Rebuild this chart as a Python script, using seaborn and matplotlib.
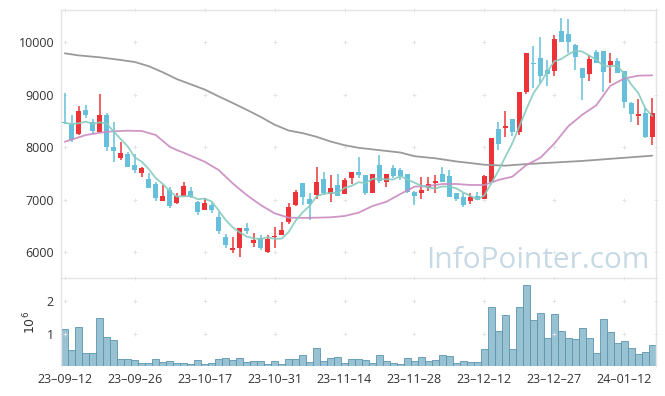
import numpy as np
import pandas as pd
import matplotlib
matplotlib.use("Agg")
import matplotlib.pyplot as plt
import seaborn as sns

# KRX trading days shown in the chart
holidays = ["2023-09-28", "2023-09-29", "2023-10-02", "2023-10-03", "2023-10-09",
            "2023-12-25", "2023-12-29", "2024-01-01"]
dates = pd.bdate_range("2023-09-12", "2024-01-18", freq="C", holidays=holidays)

opens = [8480, 8444, 8253, 8710, 8476, 8297, 8615, 8011, 7802, 7872,
         7663, 7504, 7396, 7301, 6983, 7186, 6933, 7078, 7167, 6963,
         6805, 6901, 6678, 6297, 6043, 6087, 6457, 6171, 6278, 6011,
         6297, 6329, 6582, 6901, 7314, 7015, 7091, 7390, 7104, 7282,
         7104, 7421, 7523, 7472, 7135, 7663, 7345, 7611, 7567, 7491,
         7154, 7135, 7219, 7325, 7491, 7453, 7123, 7059, 6983, 7072,
         7009, 7345, 8343, 8373, 8533, 8297, 9059, 9600, 9695, 9472,
         9459, 10215, 10158, 9949, 9505, 9390, 9821, 9834, 9568, 9644,
         9453, 8849, 8602, 8659, 8202]
highs = [9040, 8615, 8787, 8800, 8533, 9010, 8647, 8476, 8095, 7916,
         7872, 7619, 7516, 7333, 7282, 7249, 7135, 7344, 7249, 6980,
         7028, 6963, 6773, 6342, 6285, 6470, 6563, 6373, 6329, 6329,
         6487, 6582, 6944, 7186, 7325, 7123, 7619, 7535, 7472, 7485,
         7409, 7530, 7809, 7480, 7485, 7853, 7500, 7663, 7600, 7500,
         7160, 7428, 7428, 7472, 7619, 7567, 7130, 7123, 7123, 7154,
         7470, 8171, 8487, 8697, 8540, 9059, 9800, 9930, 10095, 9663,
         10139, 10457, 10438, 9960, 9510, 9758, 9853, 9840, 9790, 9695,
         9460, 8855, 8914, 8743, 8933]
lows = [8440, 8106, 8234, 8552, 8253, 8297, 7935, 7725, 7758, 7619,
        7516, 7440, 7219, 6983, 6983, 6838, 6920, 7072, 7028, 6710,
        6805, 6754, 6348, 6076, 5980, 5916, 6348, 6106, 6043, 5992,
        6076, 6329, 6539, 6881, 6900, 6615, 7009, 7091, 6963, 7078,
        7104, 7301, 7409, 7091, 7135, 7314, 7238, 7409, 7377, 7123,
        6901, 7009, 7173, 7123, 7345, 7059, 6983, 6868, 6920, 6996,
        7009, 7330, 7948, 8202, 8215, 8234, 9015, 9124, 9230, 9168,
        9358, 10006, 9802, 9472, 8901, 9268, 9611, 9059, 9219, 9409,
        8743, 8487, 8425, 8171, 8044]
closes = [8463, 8139, 8691, 8621, 8310, 8615, 8011, 7935, 7897, 7630,
          7567, 7600, 7230, 7040, 7072, 6887, 7072, 7263, 7059, 6773,
          6944, 6805, 6411, 6138, 6087, 6457, 6411, 6234, 6076, 6253,
          6310, 6424, 6868, 7142, 7059, 6920, 7333, 7123, 7219, 7078,
          7377, 7523, 7472, 7135, 7485, 7364, 7491, 7459, 7459, 7154,
          7072, 7186, 7301, 7364, 7345, 7059, 7015, 6901, 7059, 6996,
          7453, 8171, 8063, 8406, 8297, 9059, 9790, 9581, 9364, 9396,
          10063, 10006, 10011, 9726, 9314, 9682, 9611, 9440, 9644, 9409,
          8868, 8628, 8634, 8202, 8647]
# volume in millions of shares
volumes = [1.13, 0.48, 1.21, 0.39, 0.39, 1.49, 0.90, 0.81, 0.21, 0.21,
           0.18, 0.10, 0.10, 0.21, 0.11, 0.14, 0.08, 0.08, 0.05, 0.18,
           0.05, 0.08, 0.21, 0.24, 0.18, 0.24, 0.11, 0.14, 0.14, 0.05,
           0.14, 0.05, 0.21, 0.21, 0.33, 0.11, 0.54, 0.14, 0.24, 0.27,
           0.10, 0.21, 0.21, 0.18, 0.08, 0.35, 0.14, 0.10, 0.07, 0.24,
           0.14, 0.27, 0.14, 0.18, 0.33, 0.30, 0.08, 0.14, 0.11, 0.11,
           0.51, 1.83, 1.07, 1.56, 0.51, 1.83, 2.48, 1.41, 1.62, 0.87,
           1.59, 1.07, 0.85, 0.82, 1.16, 0.87, 0.39, 1.44, 1.04, 0.70,
           0.76, 0.54, 0.36, 0.42, 0.64]

# moving averages (5-day head, 20-day, 120-day)
ma5_head = [8468, 8444, 8457, 8488]
ma20_idx = [0, 3, 6, 9, 11, 13, 15, 16, 17, 20, 22, 24, 26, 28, 30, 32, 34, 36,
            38, 40, 42, 44, 46, 48, 50, 52, 54, 56, 58, 60, 62, 64, 66, 68, 70,
            72, 74, 76, 78, 80, 82, 84]
ma20_val = [8105, 8234, 8297, 8316, 8310, 8234, 8011, 7948, 7897, 7725, 7567,
            7314, 7091, 6901, 6742, 6659, 6655, 6659, 6666, 6691, 6754, 6881,
            6963, 7110, 7250, 7263, 7301, 7301, 7282, 7282, 7377, 7440, 7663,
            7800, 8070, 8400, 8620, 8800, 9170, 9310, 9364, 9370]
ma120_idx = [0, 2, 5, 8, 10, 12, 14, 16, 18, 20, 22, 24, 26, 28, 30, 32, 34, 36,
             38, 40, 42, 45, 48, 50, 53, 56, 58, 60, 63, 66, 70, 74, 78, 82, 84]
ma120_val = [9790, 9750, 9714, 9663, 9625, 9545, 9430, 9300, 9200, 9100, 8970,
             8845, 8715, 8580, 8430, 8320, 8270, 8200, 8110, 8040, 7990, 7945,
             7900, 7830, 7790, 7730, 7700, 7668, 7650, 7680, 7710, 7740, 7780,
             7820, 7840]

price_ticks = [6000, 7000, 8000, 9000, 10000]
vol_ticks = [1, 2]
label_step = 10

RED = "#ec3438"
BLUE = "#66bfdb"

sns.set_style("white")
plt.rcParams["font.family"] = ["Open Sans", "DejaVu Sans"]

df = pd.DataFrame({"date": dates, "open": opens, "high": highs,
                   "low": lows, "close": closes, "volume": volumes})
df["idx"] = np.arange(len(df))
df["ma5"] = df["close"].rolling(5, min_periods=1).mean()
df.loc[:len(ma5_head) - 1, "ma5"] = ma5_head

fig = plt.figure(figsize=(6.65, 3.96), dpi=100)
ax = fig.add_axes([0.0917, 0.298, 0.8948, 0.6767])
axv = fig.add_axes([0.0917, 0.0758, 0.8948, 0.2222])

xlim = (-0.55, 84.55)
plim = (5510, 10615)
vlim = (0, 2.71)

# candles
up = df["close"] >= df["open"]
colors = np.where(up, RED, BLUE)
ax.vlines(df["idx"], df["low"], df["high"], colors=colors, lw=1.1, zorder=2)
body = (df["close"] - df["open"]).abs().clip(lower=18)
ax.bar(df["idx"], body, bottom=df[["open", "close"]].min(axis=1),
       width=0.72, color=colors, zorder=3, linewidth=0)

# moving averages
sns.lineplot(x=ma120_idx, y=ma120_val, ax=ax, color="#9a9a9a", lw=1.3, zorder=4)
sns.lineplot(x=ma20_idx, y=ma20_val, ax=ax, color="#c98ac0", lw=1.3, alpha=0.9, zorder=4)
sns.lineplot(x=df["idx"], y=df["ma5"], ax=ax, color="#86cbbf", lw=1.3, alpha=0.9, zorder=5)

ax.text(0.802, 0.037, "InfoPointer.com", transform=ax.transAxes, ha="center",
        va="baseline", fontsize=21.5, color="#c6d9e4", zorder=0)

# volume
sns.barplot(x=df["idx"], y=df["volume"], ax=axv, color="#98c1d2", edgecolor="#5b94b1",
            linewidth=0.6, width=1, saturation=1, errorbar=None)

xt = list(range(0, len(df), label_step))
grid_x = xt + [xlim[1]]
for a, yl, yt in [(ax, plim, price_ticks), (axv, vlim, vol_ticks)]:
    a.set_xlim(*xlim)
    a.set_ylim(*yl)
    gx, gy = np.meshgrid(grid_x, yt + [yl[1]])
    a.plot(gx.ravel(), gy.ravel(), "+", color="#e4e4e4", ms=3.2, mew=0.7,
           clip_on=False, zorder=1)
    for s in ["left", "top", "right"]:
        a.spines[s].set_color("#e4e4e4")
        a.spines[s].set_linewidth(1)
    a.spines["bottom"].set_visible(False)
    a.tick_params(length=0, labelsize=9, labelcolor="#333333", pad=5)
    a.set_yticks(yt)
    a.set_xlabel("")

ax.set_ylabel("")
ax.set_xticks(xt)
ax.set_xticklabels([])
axv.set_xticks(xt)
axv.set_xticklabels([d.strftime("%y–%m–%d") for d in df["date"].iloc[xt]])
axv.set_yticklabels([str(v) for v in vol_ticks])
axv.set_ylabel("$10^6$", fontsize=9, color="#333333", labelpad=6)

fig.savefig("out.png", dpi=100)
